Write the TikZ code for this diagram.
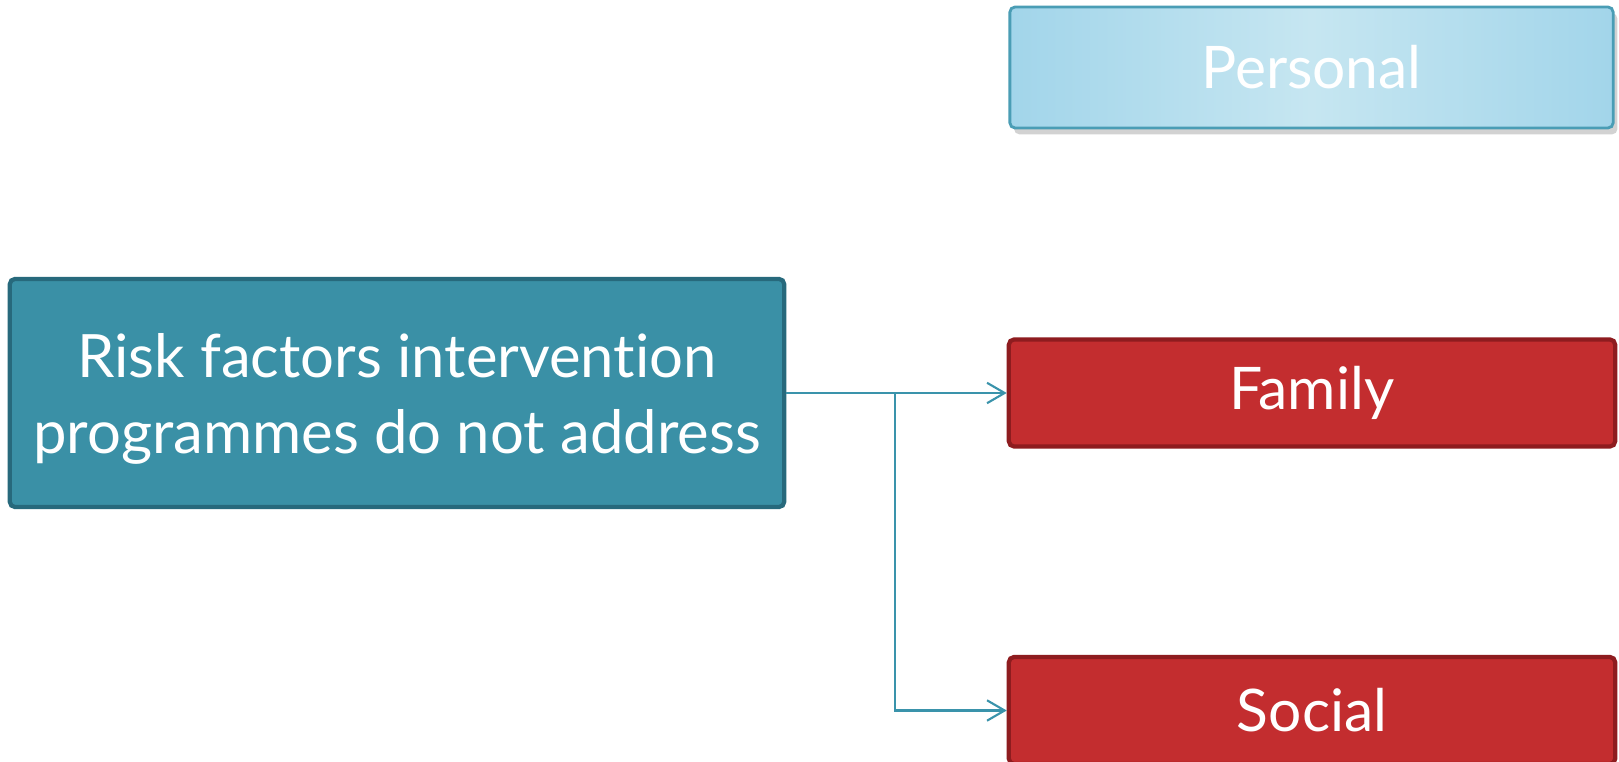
\documentclass[tikz,border=0pt]{standalone}
\usepackage{fontspec}
\setmainfont{Lato}[Ligatures=NoCommon]
\usetikzlibrary{arrows.meta,shadows}
\definecolor{tealfill}{HTML}{3A90A6}
\definecolor{tealdraw}{HTML}{27697C}
\definecolor{redfill}{HTML}{C32D2F}
\definecolor{reddraw}{HTML}{8E1C1F}
\definecolor{lblue}{HTML}{A2D5EA}
\definecolor{lbluemid}{HTML}{C6E6F1}
\definecolor{lbluedraw}{HTML}{4A9DB5}
\definecolor{conncol}{HTML}{3A93AB}
\tikzset{
  box/.style={rectangle, rounded corners=1.5pt, line width=1.2pt, text=white, align=center, inner sep=0pt},
  mainbox/.style={box, fill=tealfill, draw=tealdraw, minimum width=7.74cm, minimum height=2.28cm,
     font=\fontsize{17}{21.6}\selectfont},
  redbox/.style={box, fill=redfill, draw=reddraw, minimum width=6.06cm, minimum height=1.07cm,
     font=\fontsize{16.7}{18}\selectfont},
  bluebox/.style={box, draw=lbluedraw, line width=0.8pt, left color=lblue, right color=lblue, middle color=lbluemid,
     minimum width=6.03cm, minimum height=1.21cm, font=\fontsize{16.7}{18}\selectfont,
     drop shadow={shadow xshift=1.2pt, shadow yshift=-1.8pt, opacity=0.35}},
  conn/.style={draw=conncol, line width=0.6pt},
  arr/.style={conn, -{Straight Barb[length=5pt,width=5.8pt,line width=0.6pt]}}
}
\begin{document}
\begin{tikzpicture}[x=0.01cm,y=-0.01cm]
\useasboundingbox (0,0) rectangle (1619,762);
\clip (0,0) rectangle (1619,762);
\fill[white] (0,0) rectangle (1619,762);
\node[mainbox] (main) at (397,393) {\rule{0pt}{16pt}Risk factors intervention\\programmes do not address};
\node[bluebox] (personal) at (1311.5,67.5) {Personal};
\node[redbox] (family) at (1312,393) {Family};
\node[redbox] (social) at (1312,710.5) {Social};
\coordinate (j) at (895,393);
\draw[conn] (main.east) -- (j);
\draw[arr] (j) |- (family.west);
\draw[arr] (j) |- (social.west);
\end{tikzpicture}
\end{document}
